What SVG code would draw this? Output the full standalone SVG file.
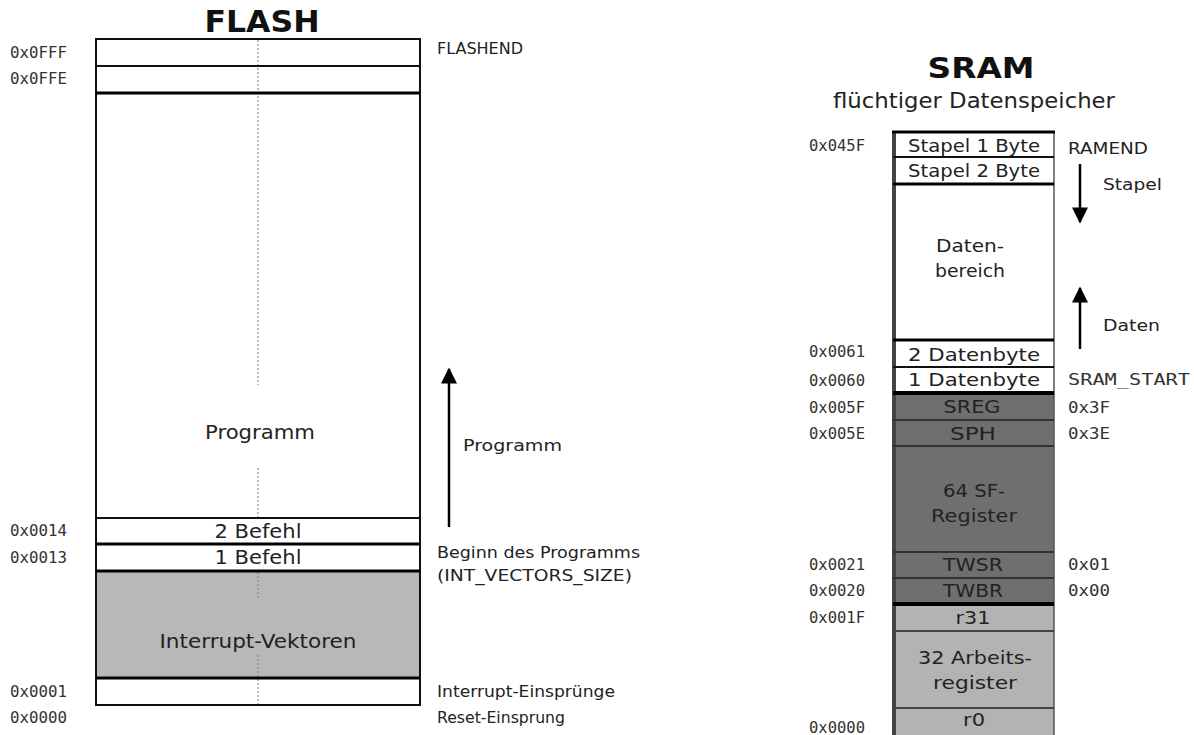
<svg xmlns="http://www.w3.org/2000/svg" width="1194" height="735" viewBox="0 0 1194 735">
<defs>
<marker id="ah" viewBox="0 0 10 10" refX="9" refY="5" markerWidth="24" markerHeight="16" markerUnits="userSpaceOnUse" orient="auto">
<path d="M0,0 L10,5 L0,10 z" fill="#000"/>
</marker>
<style>
.t{font-family:"DejaVu Sans","Liberation Sans",sans-serif;fill:#222}
.tb{font-family:"DejaVu Sans","Liberation Sans",sans-serif;font-weight:bold;fill:#111}
.m{font-family:"DejaVu Sans Mono","Liberation Mono",monospace;font-size:15px;fill:#333}
.l{font-size:16px}
.c{text-anchor:middle}
.box{stroke:#111;stroke-width:2}
.w{fill:#fff}
.g{fill:#b8b8b8}
.d{fill:#6f6f6f}
.lg{fill:#b3b3b3}
.sep{stroke:#111;stroke-width:2}
.sepk{stroke:#000;stroke-width:3}
.dash{stroke:#777;stroke-width:1;stroke-dasharray:2 2}
.arr{stroke:#000;stroke-width:2.5;fill:none}
</style>
</defs>
<rect width="1194" height="735" fill="#fff"/>

<!-- FLASH -->
<g id="flash">
<text class="tb c" x="262" y="32" font-size="30" textLength="115" lengthAdjust="spacingAndGlyphs">FLASH</text>
<rect class="box w" x="96" y="39" width="324" height="666"/>
<rect class="g" x="97" y="571" width="322" height="107"/>
<line class="dash" x1="258" y1="40" x2="258" y2="385"/>
<line class="dash" x1="258" y1="468" x2="258" y2="518"/>
<line class="dash" x1="258" y1="572" x2="258" y2="600"/>
<line class="dash" x1="258" y1="655" x2="258" y2="704"/>
<line class="sep" x1="96" y1="66" x2="420" y2="66"/>
<line class="sepk" x1="96" y1="93" x2="420" y2="93"/>
<line class="sep" x1="96" y1="518" x2="420" y2="518"/>
<line class="sepk" x1="96" y1="544" x2="420" y2="544"/>
<line class="sepk" x1="96" y1="571" x2="420" y2="571"/>
<line class="sepk" x1="96" y1="678" x2="420" y2="678"/>
</g>
<g id="flash-fff">
<text class="m" x="10" y="58" textLength="57" lengthAdjust="spacingAndGlyphs">0x0FFF</text>
<text class="t l" x="437" y="54" textLength="86" lengthAdjust="spacingAndGlyphs">FLASHEND</text>
</g>
<g id="flash-ffe">
<text class="m" x="10" y="84" textLength="57" lengthAdjust="spacingAndGlyphs">0x0FFE</text>
</g>
<g id="flash-programm">
<text class="t c" x="260" y="439" font-size="20" fill="#333" textLength="110" lengthAdjust="spacingAndGlyphs">Programm</text>
</g>
<g id="flash-2befehl">
<text class="m" x="10" y="536" textLength="57" lengthAdjust="spacingAndGlyphs">0x0014</text>
<text class="t c" x="258" y="538" font-size="20" textLength="87" lengthAdjust="spacingAndGlyphs">2 Befehl</text>
</g>
<g id="flash-1befehl">
<text class="m" x="10" y="563" textLength="57" lengthAdjust="spacingAndGlyphs">0x0013</text>
<text class="t c" x="258" y="564" font-size="20" textLength="87" lengthAdjust="spacingAndGlyphs">1 Befehl</text>
<text class="t l" x="437" y="558" textLength="203" lengthAdjust="spacingAndGlyphs">Beginn des Programms</text>
<text class="t l" x="437" y="581" textLength="195" lengthAdjust="spacingAndGlyphs">(INT_VECTORS_SIZE)</text>
</g>
<g id="flash-interrupt">
<text class="t c" x="258" y="648" font-size="20" fill="#333" textLength="197" lengthAdjust="spacingAndGlyphs">Interrupt-Vektoren</text>
<text class="m" x="10" y="697" textLength="57" lengthAdjust="spacingAndGlyphs">0x0001</text>
<text class="t l" x="437" y="697" textLength="178" lengthAdjust="spacingAndGlyphs">Interrupt-Einsprünge</text>
</g>
<g id="flash-reset">
<text class="m" x="10" y="723" textLength="57" lengthAdjust="spacingAndGlyphs">0x0000</text>
<text class="t l" x="437" y="723" textLength="128" lengthAdjust="spacingAndGlyphs">Reset-Einsprung</text>
</g>

<!-- SRAM -->
<g id="sram">
<text class="tb c" x="981" y="78" font-size="29" textLength="107" lengthAdjust="spacingAndGlyphs">SRAM</text>
<text class="t c" x="974" y="108" font-size="21" fill="#333" textLength="282" lengthAdjust="spacingAndGlyphs">flüchtiger Datenspeicher</text>
<rect class="w" x="893" y="132" width="161" height="261"/>
<rect class="d" x="893" y="393" width="161" height="211"/>
<rect class="lg" x="893" y="604" width="161" height="131"/>
<line stroke="#555" stroke-width="1.5" x1="1054" y1="132" x2="1054" y2="735"/>
<line stroke="#444" stroke-width="4" x1="894" y1="131" x2="894" y2="735"/>
<line class="sepk" x1="892" y1="132" x2="1055" y2="132"/>
<line class="sep" x1="893" y1="157" x2="1054" y2="157"/>
<line class="sepk" x1="893" y1="184" x2="1054" y2="184"/>
<line class="sepk" x1="893" y1="340" x2="1054" y2="340"/>
<line class="sep" x1="893" y1="367" x2="1054" y2="367"/>
<line stroke="#000" stroke-width="4" x1="893" y1="393" x2="1054" y2="393"/>
<line stroke="#333" stroke-width="2" x1="893" y1="420" x2="1054" y2="420"/>
<line stroke="#333" stroke-width="2" x1="893" y1="446" x2="1054" y2="446"/>
<line stroke="#333" stroke-width="2" x1="893" y1="552" x2="1054" y2="552"/>
<line stroke="#333" stroke-width="2" x1="893" y1="578" x2="1054" y2="578"/>
<line stroke="#000" stroke-width="4" x1="893" y1="604" x2="1054" y2="604"/>
<line stroke="#444" stroke-width="2" x1="893" y1="631" x2="1054" y2="631"/>
<line stroke="#444" stroke-width="2" x1="893" y1="708" x2="1054" y2="708"/>
</g>
<g id="sram-stapel1">
<text class="m" x="809" y="151" textLength="56" lengthAdjust="spacingAndGlyphs">0x045F</text>
<text class="t c" x="974" y="152" font-size="18" textLength="132" lengthAdjust="spacingAndGlyphs">Stapel 1 Byte</text>
<text class="t l" x="1068" y="154" textLength="80" lengthAdjust="spacingAndGlyphs">RAMEND</text>
</g>
<g id="sram-stapel2">
<text class="t c" x="974" y="177" font-size="18" textLength="132" lengthAdjust="spacingAndGlyphs">Stapel 2 Byte</text>
</g>
<g id="sram-daten">
<text class="t c" x="970" y="252" font-size="18" textLength="68" lengthAdjust="spacingAndGlyphs">Daten-</text>
<text class="t c" x="970" y="277" font-size="18" textLength="70" lengthAdjust="spacingAndGlyphs">bereich</text>
</g>
<g id="sram-2datenbyte">
<text class="m" x="809" y="357" textLength="56" lengthAdjust="spacingAndGlyphs">0x0061</text>
<text class="t c" x="974" y="361" font-size="18" textLength="132" lengthAdjust="spacingAndGlyphs">2 Datenbyte</text>
</g>
<g id="sram-1datenbyte">
<text class="m" x="809" y="386" textLength="56" lengthAdjust="spacingAndGlyphs">0x0060</text>
<text class="t c" x="974" y="386" font-size="18" textLength="132" lengthAdjust="spacingAndGlyphs">1 Datenbyte</text>
<text class="m" x="1068" y="385" textLength="122" lengthAdjust="spacingAndGlyphs" fill="#222">SRAM_START</text>
</g>
<g id="sram-sreg">
<text class="m" x="809" y="413" textLength="56" lengthAdjust="spacingAndGlyphs">0x005F</text>
<text class="t c" x="972" y="413" font-size="18" fill="#2a2a2a" textLength="57" lengthAdjust="spacingAndGlyphs">SREG</text>
<text class="m" x="1068" y="413" textLength="42" lengthAdjust="spacingAndGlyphs">0x3F</text>
</g>
<g id="sram-sph">
<text class="m" x="809" y="439" textLength="56" lengthAdjust="spacingAndGlyphs">0x005E</text>
<text class="t c" x="973" y="440" font-size="18" fill="#2a2a2a" textLength="46" lengthAdjust="spacingAndGlyphs">SPH</text>
<text class="m" x="1068" y="439" textLength="42" lengthAdjust="spacingAndGlyphs">0x3E</text>
</g>
<g id="sram-sf">
<text class="t c" x="974" y="497" font-size="18" fill="#2a2a2a" textLength="62" lengthAdjust="spacingAndGlyphs">64 SF-</text>
<text class="t c" x="974" y="522" font-size="18" fill="#2a2a2a" textLength="86" lengthAdjust="spacingAndGlyphs">Register</text>
</g>
<g id="sram-twsr">
<text class="m" x="809" y="570" textLength="56" lengthAdjust="spacingAndGlyphs">0x0021</text>
<text class="t c" x="973" y="571" font-size="18" fill="#2a2a2a" textLength="60" lengthAdjust="spacingAndGlyphs">TWSR</text>
<text class="m" x="1068" y="570" textLength="42" lengthAdjust="spacingAndGlyphs">0x01</text>
</g>
<g id="sram-twbr">
<text class="m" x="809" y="596" textLength="56" lengthAdjust="spacingAndGlyphs">0x0020</text>
<text class="t c" x="973" y="597" font-size="18" fill="#2a2a2a" textLength="60" lengthAdjust="spacingAndGlyphs">TWBR</text>
<text class="m" x="1068" y="596" textLength="42" lengthAdjust="spacingAndGlyphs">0x00</text>
</g>
<g id="sram-r31">
<text class="m" x="809" y="623" textLength="56" lengthAdjust="spacingAndGlyphs">0x001F</text>
<text class="t c" x="973" y="624" font-size="18" fill="#333" textLength="35" lengthAdjust="spacingAndGlyphs">r31</text>
</g>
<g id="sram-arbeits">
<text class="t c" x="975" y="664" font-size="18" fill="#333" textLength="114" lengthAdjust="spacingAndGlyphs">32 Arbeits-</text>
<text class="t c" x="975" y="689" font-size="18" fill="#333" textLength="84" lengthAdjust="spacingAndGlyphs">register</text>
</g>
<g id="sram-r0">
<text class="m" x="809" y="733" textLength="56" lengthAdjust="spacingAndGlyphs">0x0000</text>
<text class="t c" x="974" y="726" font-size="18" fill="#333" textLength="22" lengthAdjust="spacingAndGlyphs">r0</text>
</g>

<!-- connectors -->
<g id="connectors">
<line class="arr" x1="449" y1="527" x2="449" y2="369" marker-end="url(#ah)"/>
<text class="t l" x="463" y="451" textLength="99" lengthAdjust="spacingAndGlyphs">Programm</text>
<line class="arr" x1="1080" y1="164" x2="1080" y2="222" marker-end="url(#ah)"/>
<text class="t l" x="1103" y="190" textLength="59" lengthAdjust="spacingAndGlyphs">Stapel</text>
<line class="arr" x1="1080" y1="349" x2="1080" y2="288" marker-end="url(#ah)"/>
<text class="t l" x="1103" y="331" textLength="57" lengthAdjust="spacingAndGlyphs">Daten</text>
</g>
</svg>
